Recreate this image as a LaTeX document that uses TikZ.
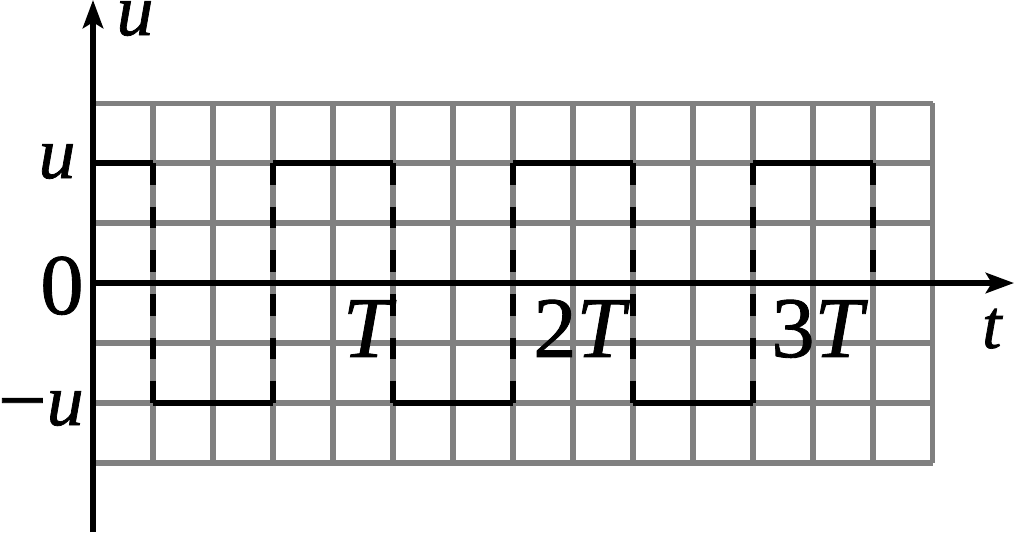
\documentclass[tikz,border=0pt]{standalone}
\usepackage{fontspec}
\setmainfont{Liberation Serif}
\newfontfamily\lblfont[FakeBold=1]{Liberation Serif}
\usetikzlibrary{arrows.meta}
\tikzset{
  gridline/.style={draw={rgb,255:red,128;green,128;blue,128}, line width=2.4pt},
  axisline/.style={draw=black, line width=2.4pt, -{Stealth[length=0.47cm,width=0.34cm,inset=0.1cm]}},
  waveline/.style={draw=black, line width=2.4pt},
  wavejump/.style={draw=black, line width=2.4pt, dash pattern=on 0.3636cm off 0.3636cm},
  lbl/.style={inner sep=0pt, anchor=base, text height=0.5cm, text depth=0pt, font=\lblfont\fontsize{41}{48}\selectfont},
  lblu/.style={inner sep=0pt, anchor=base, text height=0.5cm, text depth=0pt, font=\lblfont\fontsize{35}{42}\selectfont\itshape},
  lblt/.style={inner sep=0pt, anchor=base, text height=0.5cm, text depth=0pt, font=\lblfont\fontsize{33}{40}\selectfont\itshape}
}
\begin{document}
\begin{tikzpicture}
\useasboundingbox (-1.55,-4.15) rectangle (15.367,4.717);
% grid
\draw[gridline] (0,-3) grid (14,3);
% axes
\coordinate (o) at (0,0);
\coordinate (ybot) at (0,-4.15);
\coordinate (ytop) at (0,4.717);
\coordinate (xend) at (15.35,0);
\draw[axisline] (ybot) -- (ytop);
\draw[axisline] (o) -- (xend);
% square wave: horizontal parts
\draw[waveline] (0,2) -- (1,2);
\draw[waveline] (1,-2) -- (3,-2);
\draw[waveline] (3,2) -- (5,2);
\draw[waveline] (5,-2) -- (7,-2);
\draw[waveline] (7,2) -- (9,2);
\draw[waveline] (9,-2) -- (11,-2);
\draw[waveline] (11,2) -- (13,2);
% transitions
\draw[wavejump] (1,2) -- (1,-2);
\draw[wavejump] (3,2) -- (3,-2);
\draw[wavejump] (5,2) -- (5,-2);
\draw[wavejump] (7,2) -- (7,-2);
\draw[wavejump] (9,2) -- (9,-2);
\draw[wavejump] (11,2) -- (11,-2);
\draw[wavejump] (13,2) -- (13,0);
% labels
\node[lblu] (uy) at (0.70,4.133) {u};
\node[lblt] (tx) at (14.98,-1.083) {t};
\node[lblu] (up) at (-0.60,1.75) {u};
\node[lbl] (zero) at (-0.517,-0.517) {0};
\node[lblu] (um) at (-0.87,-2.367) {{\upshape\fontsize{41}{48}\selectfont\raisebox{-0.07cm}{−}}u};
\node[lbl] (T1) at (4.567,-1.233) {\itshape T};
\node[lbl] (T2) at (8.1,-1.233) {2\itshape T};
\node[lbl] (T3) at (12.067,-1.233) {3\itshape T};
\end{tikzpicture}
\end{document}
